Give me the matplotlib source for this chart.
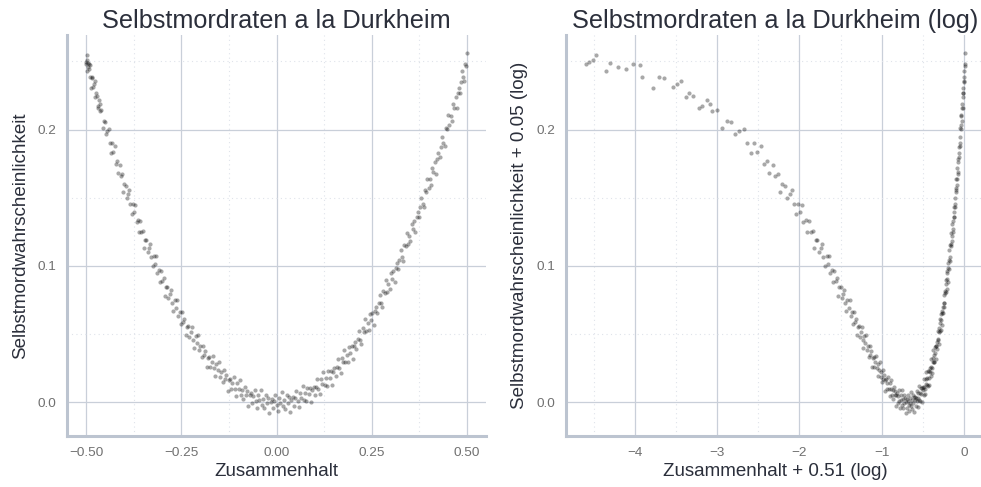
#!/usr/bin/env python3
"""
Durkheim suicide rates vs. social cohesion, raw and log-scaled cohesion.
"""
import numpy as np
import matplotlib
matplotlib.use("Agg")
import matplotlib.pyplot as plt
from matplotlib.ticker import MultipleLocator

# cohesion (Zusammenhalt)
zusammenhalt = [
    -0.499, -0.497, -0.495, -0.492, -0.490, -0.487, -0.484, -0.481, -0.478, -0.476,
    -0.473, -0.470, -0.466, -0.463, -0.460, -0.457, -0.454, -0.451, -0.448, -0.445,
    -0.441, -0.438, -0.435, -0.432, -0.429, -0.425, -0.422, -0.419, -0.416, -0.412,
    -0.409, -0.406, -0.403, -0.400, -0.396, -0.393, -0.390, -0.387, -0.384, -0.380,
    -0.377, -0.374, -0.371, -0.368, -0.364, -0.361, -0.358, -0.355, -0.351, -0.348,
    -0.345, -0.342, -0.339, -0.335, -0.332, -0.329, -0.326, -0.322, -0.319, -0.316,
    -0.313, -0.310, -0.306, -0.303, -0.300, -0.297, -0.293, -0.290, -0.287, -0.284,
    -0.280, -0.277, -0.274, -0.271, -0.268, -0.264, -0.261, -0.258, -0.255, -0.251,
    -0.248, -0.245, -0.242, -0.239, -0.235, -0.232, -0.229, -0.226, -0.222, -0.219,
    -0.216, -0.213, -0.209, -0.206, -0.203, -0.200, -0.197, -0.193, -0.190, -0.187,
    -0.184, -0.180, -0.177, -0.174, -0.171, -0.168, -0.164, -0.161, -0.158, -0.155,
    -0.151, -0.148, -0.145, -0.142, -0.139, -0.135, -0.132, -0.129, -0.126, -0.122,
    -0.119, -0.116, -0.113, -0.110, -0.106, -0.103, -0.100, -0.097, -0.093, -0.090,
    -0.087, -0.084, -0.080, -0.077, -0.074, -0.071, -0.068, -0.064, -0.061, -0.058,
    -0.055, -0.051, -0.048, -0.045, -0.042, -0.039, -0.035, -0.032, -0.029, -0.026,
    -0.022, -0.019, -0.016, -0.013, -0.010, -0.006, -0.003, 0.000, 0.003, 0.006,
    0.010, 0.013, 0.016, 0.019, 0.022, 0.026, 0.029, 0.032, 0.035, 0.039,
    0.042, 0.045, 0.048, 0.051, 0.055, 0.058, 0.061, 0.064, 0.068, 0.071,
    0.074, 0.077, 0.080, 0.084, 0.087, 0.090, 0.093, 0.097, 0.100, 0.103,
    0.106, 0.110, 0.113, 0.116, 0.119, 0.122, 0.126, 0.129, 0.132, 0.135,
    0.139, 0.142, 0.145, 0.148, 0.151, 0.155, 0.158, 0.161, 0.164, 0.168,
    0.171, 0.174, 0.177, 0.180, 0.184, 0.187, 0.190, 0.193, 0.197, 0.200,
    0.203, 0.206, 0.209, 0.213, 0.216, 0.219, 0.222, 0.226, 0.229, 0.232,
    0.235, 0.239, 0.242, 0.245, 0.248, 0.251, 0.255, 0.258, 0.261, 0.264,
    0.268, 0.271, 0.274, 0.277, 0.280, 0.284, 0.287, 0.290, 0.293, 0.297,
    0.300, 0.303, 0.306, 0.310, 0.313, 0.316, 0.319, 0.322, 0.326, 0.329,
    0.332, 0.335, 0.339, 0.342, 0.345, 0.348, 0.351, 0.355, 0.358, 0.361,
    0.364, 0.368, 0.371, 0.374, 0.377, 0.380, 0.384, 0.387, 0.390, 0.393,
    0.396, 0.400, 0.403, 0.406, 0.409, 0.412, 0.416, 0.419, 0.422, 0.425,
    0.429, 0.432, 0.435, 0.438, 0.441, 0.445, 0.448, 0.451, 0.454, 0.457,
    0.460, 0.463, 0.466, 0.470, 0.473, 0.476, 0.478, 0.481, 0.484, 0.487,
    0.490, 0.492, 0.495, 0.497, 0.499,
    -0.4999, -0.4995, -0.4985, -0.4965, -0.4935, -0.4905, -0.4855, -0.4795,
    -0.4745, -0.4685, -0.4645,
]

# suicide probability (Selbstmordwahrscheinlichkeit)
selbstmord = [
    0.2511, 0.2427, 0.2458, 0.2478, 0.2382, 0.2306, 0.2377, 0.2309, 0.2357, 0.2235,
    0.2249, 0.2157, 0.2217, 0.2133, 0.2144, 0.2009, 0.2064, 0.2055, 0.1964, 0.1988,
    0.2002, 0.1899, 0.1826, 0.1900, 0.1835, 0.1878, 0.1750, 0.1768, 0.1679, 0.1742,
    0.1662, 0.1676, 0.1545, 0.1603, 0.1589, 0.1501, 0.1529, 0.1555, 0.1456, 0.1378,
    0.1455, 0.1394, 0.1448, 0.1323, 0.1337, 0.1251, 0.1327, 0.1249, 0.1260, 0.1132,
    0.1193, 0.1191, 0.1106, 0.1130, 0.1159, 0.1063, 0.0997, 0.1071, 0.1013, 0.1071,
    0.0949, 0.0973, 0.0884, 0.0963, 0.0889, 0.0910, 0.0779, 0.0844, 0.0845, 0.0764,
    0.0792, 0.0824, 0.0732, 0.0668, 0.0752, 0.0692, 0.0753, 0.0635, 0.0662, 0.0578,
    0.0660, 0.0589, 0.0614, 0.0492, 0.0555, 0.0559, 0.0481, 0.0519, 0.0550, 0.0461,
    0.0401, 0.0488, 0.0432, 0.0496, 0.0381, 0.0412, 0.0336, 0.0417, 0.0350, 0.0378,
    0.0260, 0.0327, 0.0334, 0.0260, 0.0300, 0.0339, 0.0250, 0.0193, 0.0284, 0.0235,
    0.0300, 0.0188, 0.0222, 0.0150, 0.0238, 0.0171, 0.0202, 0.0087, 0.0162, 0.0170,
    0.0099, 0.0143, 0.0185, 0.0102, 0.0046, 0.0140, 0.0095, 0.0166, 0.0055, 0.0093,
    0.0024, 0.0116, 0.0053, 0.0087, -0.0024, 0.0053, 0.0067, -0.0002, 0.0045, 0.0091,
    0.0011, -0.0040, 0.0057, 0.0015, 0.0090, -0.0016, 0.0024, -0.0042, 0.0053, -0.0004,
    0.0033, -0.0075, 0.0006, 0.0023, -0.0042, 0.0008, 0.0057, -0.0019, -0.0066, 0.0034,
    -0.0004, 0.0074, -0.0028, 0.0016, -0.0047, 0.0052, -0.0003, 0.0038, -0.0067, 0.0018,
    0.0039, -0.0023, 0.0031, 0.0083, 0.0011, -0.0032, 0.0071, 0.0036, 0.0118, 0.0019,
    0.0067, 0.0007, 0.0109, 0.0060, 0.0104, 0.0002, 0.0089, 0.0115, 0.0057, 0.0114,
    0.0169, 0.0102, 0.0062, 0.0169, 0.0137, 0.0221, 0.0128, 0.0178, 0.0122, 0.0227,
    0.0182, 0.0230, 0.0131, 0.0222, 0.0249, 0.0197, 0.0258, 0.0316, 0.0250, 0.0216,
    0.0326, 0.0298, 0.0385, 0.0293, 0.0351, 0.0298, 0.0406, 0.0361, 0.0416, 0.0321,
    0.0415, 0.0445, 0.0394, 0.0462, 0.0524, 0.0461, 0.0427, 0.0545, 0.0519, 0.0610,
    0.0521, 0.0583, 0.0534, 0.0645, 0.0604, 0.0658, 0.0571, 0.0669, 0.0702, 0.0654,
    0.0726, 0.0791, 0.0732, 0.0701, 0.0818, 0.0802, 0.0896, 0.0810, 0.0870, 0.0830,
    0.0945, 0.0907, 0.0964, 0.0882, 0.0983, 0.1020, 0.0975, 0.1045, 0.1120, 0.1063,
    0.1036, 0.1156, 0.1144, 0.1242, 0.1159, 0.1223, 0.1180, 0.1305, 0.1271, 0.1331,
    0.1246, 0.1357, 0.1397, 0.1356, 0.1429, 0.1501, 0.1456, 0.1432, 0.1555, 0.1539,
    0.1640, 0.1569, 0.1636, 0.1596, 0.1718, 0.1686, 0.1759, 0.1677, 0.1784, 0.1827,
    0.1797, 0.1874, 0.1949, 0.1899, 0.1879, 0.2014, 0.2002, 0.2106, 0.2030, 0.2100,
    0.2064, 0.2189, 0.2161, 0.2237, 0.2158, 0.2269, 0.2306, 0.2271, 0.2351, 0.2429,
    0.2382, 0.2355, 0.2484, 0.2465, 0.2562,
    0.2478, 0.2493, 0.2547, 0.2489, 0.2441, 0.2470, 0.2383, 0.2331,
    0.2270, 0.2172, 0.2190,
]

TEXT = "#2b2f3b"
TICK = "#707070"
GRID = "#c9cfd9"
MINOR = "#dfe3ea"
SPINE = "#bcc4d0"
YLIM = (-0.0246, 0.2693)


def __style(ax, xmajor: float, xminor: float):
    for side in ("top", "right"):
        ax.spines[side].set_visible(False)
    for side in ("left", "bottom"):
        ax.spines[side].set_color(SPINE)
        ax.spines[side].set_linewidth(2.2)
    ax.xaxis.set_major_locator(MultipleLocator(xmajor))
    ax.xaxis.set_minor_locator(MultipleLocator(xminor))
    ax.yaxis.set_major_locator(MultipleLocator(0.1))
    ax.yaxis.set_minor_locator(MultipleLocator(0.05))
    ax.grid(which="major", color=GRID, linewidth=0.9)
    ax.grid(which="minor", color=MINOR, linewidth=0.8, linestyle=(0, (1, 3)))
    ax.set_axisbelow(True)
    ax.tick_params(which="both", length=0, colors=TICK, labelsize=9.7, pad=8)
    ax.set_ylim(*YLIM)


def main():
    plt.rcParams["font.family"] = ["Liberation Sans", "DejaVu Sans"]
    plt.rcParams["axes.unicode_minus"] = True
    x = np.array(zusammenhalt)
    y = np.array(selbstmord)

    fig = plt.figure(figsize=(9.81, 4.87), dpi=100)
    ax1 = fig.add_axes([67 / 981, 51 / 487, 419 / 981, 401 / 487])
    ax2 = fig.add_axes([566 / 981, 51 / 487, 418 / 981, 401 / 487])

    ax1.scatter(x, y, s=9, color="black", alpha=0.34, linewidths=0)
    __style(ax1, 0.25, 0.125)
    ax1.set_xlim(-0.5506, 0.55)
    ax1.xaxis.set_major_formatter(lambda v, p: f"{v:.2f}".replace("-", "\u2212"))
    ax1.yaxis.set_major_formatter(lambda v, p: f"{v:.1f}")
    ax1.set_xlabel("Zusammenhalt", fontsize=13.5, color=TEXT, labelpad=3)
    ax1.set_ylabel("Selbstmordwahrscheinlichkeit", fontsize=13.5, color=TEXT, labelpad=6)
    ax1.set_title("Selbstmordraten a la Durkheim", fontsize=18.2, color=TEXT, pad=5)

    ax2.scatter(np.log(x + 0.51), y, s=9, color="black", alpha=0.34, linewidths=0)
    __style(ax2, 1, 0.5)
    ax2.set_xlim(-4.834, 0.24)
    ax2.xaxis.set_major_formatter(lambda v, p: f"{v:.0f}".replace("-", "\u2212"))
    ax2.yaxis.set_major_formatter(lambda v, p: f"{v:.1f}")
    ax2.set_xlabel("Zusammenhalt + 0.51 (log)", fontsize=13.5, color=TEXT, labelpad=3)
    ax2.set_ylabel("Selbstmordwahrscheinlichkeit + 0.05 (log)", fontsize=13.5,
                   color=TEXT, labelpad=6)
    ax2.set_title("Selbstmordraten a la Durkheim (log)", fontsize=18.2, color=TEXT, pad=5)

    fig.savefig("out.png", dpi=100)


if __name__ == '__main__':
    main()
